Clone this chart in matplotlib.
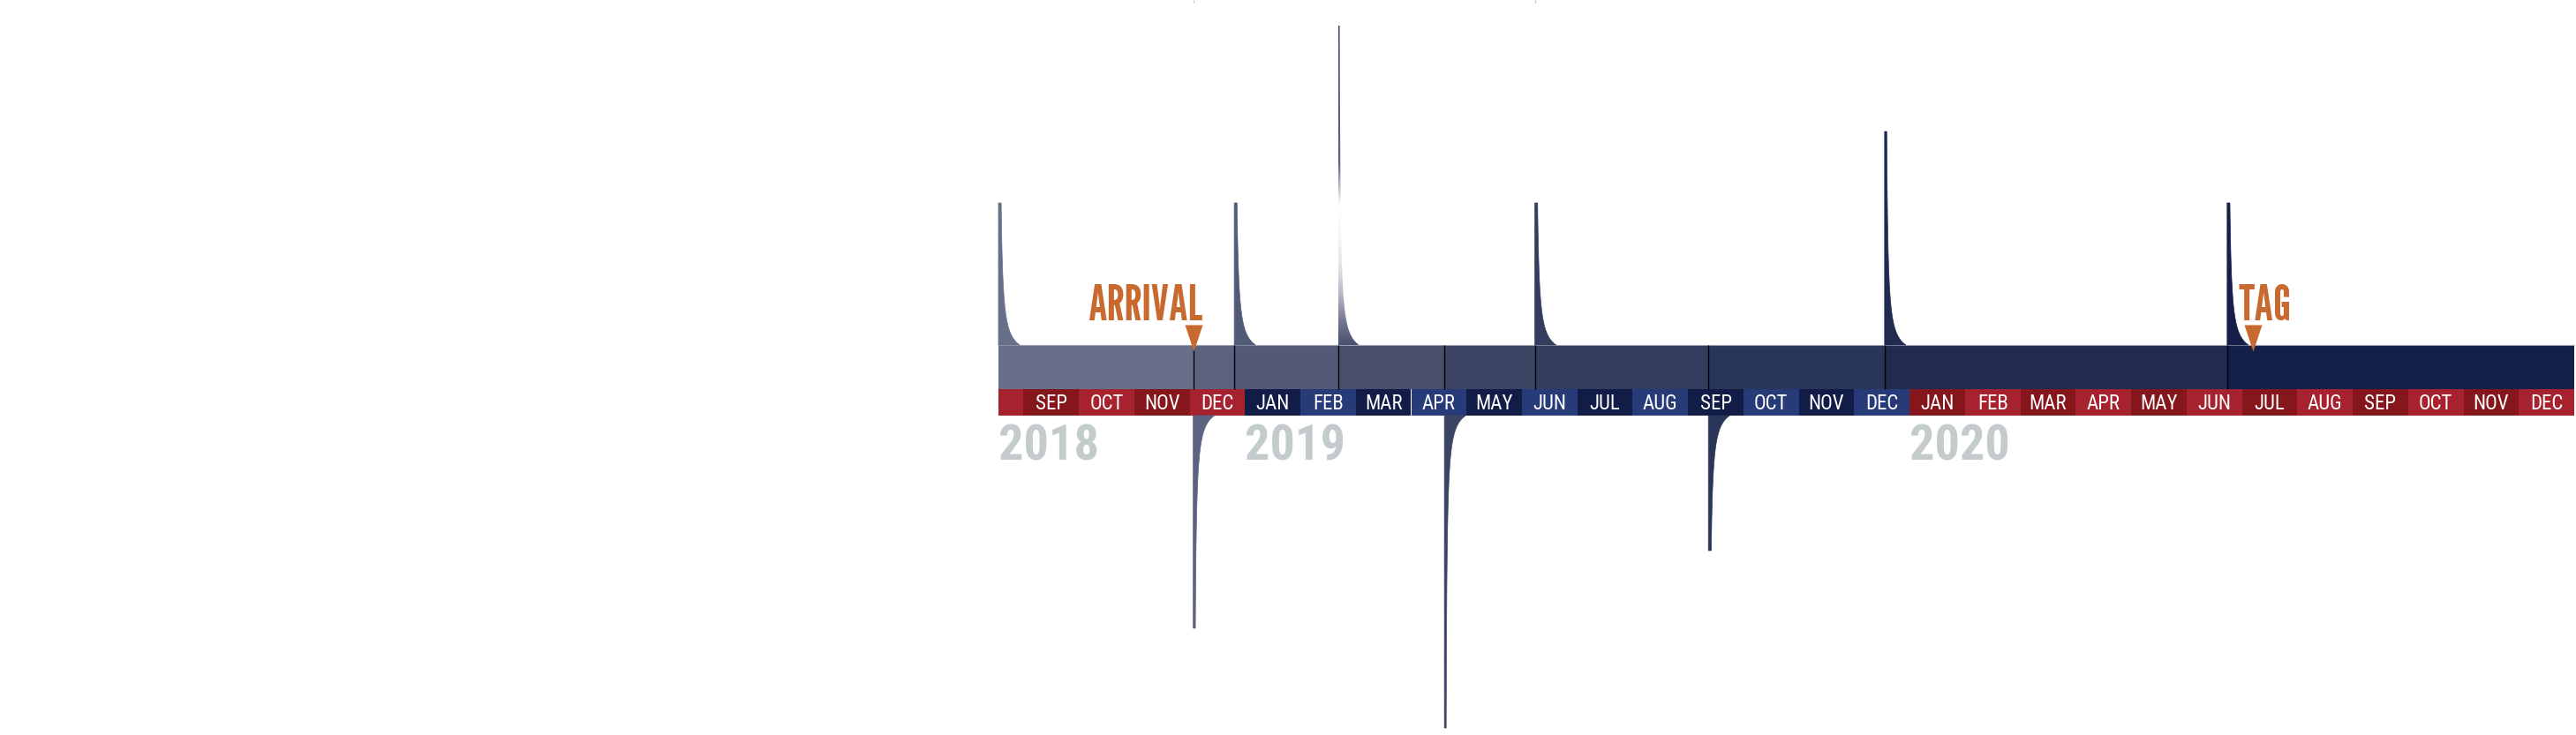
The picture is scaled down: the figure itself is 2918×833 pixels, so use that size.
import calendar
import numpy as np
import matplotlib
matplotlib.use("Agg")
import matplotlib.pyplot as plt
from matplotlib.patches import Polygon, Rectangle
from matplotlib import font_manager as fm

# --- data -------------------------------------------------------------
month_names = ['JAN', 'FEB', 'MAR', 'APR', 'MAY', 'JUN',
               'JUL', 'AUG', 'SEP', 'OCT', 'NOV', 'DEC']
years = [2018, 2019, 2020]

# segment boundaries of the status band (year, month, day)
boundaries = [(2018, 8, 18), (2018, 12, 3), (2018, 12, 26), (2019, 2, 20),
              (2019, 4, 19), (2019, 6, 8), (2019, 9, 12), (2019, 12, 18),
              (2020, 6, 23), (2021, 1, 1)]
# spike at each boundary (except the last): + up / - down
spike_size = [161, -241, 161, 362, -354, 161, -153, 242, 161]
seg_colors = ['#687089', '#5b6381', '#525a77', '#4a4f6e', '#3c4463',
              '#333e5e', '#2a3659', '#212b50', '#141f4a']

events = ['ARRIVAL', 'TAG']
event_dates = [(2018, 12, 3), (2020, 7, 7)]

# month strip colours (light / dark) per year
year_colors = {2018: ('#a6222f', '#85161c'),
               2019: ('#283b79', '#111c47'),
               2020: ('#a6222f', '#85161c')}

# --- fonts ------------------------------------------------------------
avail = {f.name for f in fm.fontManager.ttflist}


def pick(*names):
    for n in names:
        if n in avail:
            return n
    return 'DejaVu Sans'


f_month = pick('Roboto Condensed', 'Barlow Condensed', 'Archivo Narrow')
f_year = pick('Roboto Condensed', 'Barlow Condensed', 'Archivo Narrow')
f_event = pick('League Gothic', 'Antonio', 'Oswald', 'Pathway Gothic One')


def tpos(d):
    y, m, day = d
    return (y - 2018) * 12 + (m - 9) + (day - 1) / calendar.monthrange(y, m)[1]


t_b = [tpos(d) for d in boundaries]
t0, t1 = t_b[0], t_b[-1]

# layout in pixels
W, H = 2918, 833
band_left, band_right = 1131, 2916
ppm = (band_right - band_left) / (t1 - t0)
band_h, strip_h = 50, 30
band_top_px = 391

fig = plt.figure(figsize=(W / 100, H / 100), dpi=100)
ax = fig.add_axes([0, 0, 1, 1])
ax.set_xlim(t0 - band_left / ppm, t1 + (W - band_right) / ppm)
ax.set_ylim(band_top_px - H, band_top_px)
ax.axis('off')

# spike profile (in px): thin vertical edge + hyperbolic decay
SP_W, SP_A, SP_D0 = 24.0, 375.5, 1.0


def spike(h):
    c = SP_A / (SP_W - SP_D0)
    dh = SP_D0 + SP_A / (h + c)
    u = np.linspace(0, 1, 120) ** 2
    d = dh + (SP_W - dh) * u
    hh = np.clip(SP_A / (d - SP_D0) - c, 0, None)
    return np.r_[0, 0, d], np.r_[0, h, hh]


# band segments
for i, col in enumerate(seg_colors):
    ax.add_patch(Rectangle((t_b[i], -band_h), t_b[i + 1] - t_b[i], band_h,
                           facecolor=col, edgecolor='none', zorder=2))
ax.hlines(0, t0, t1, color='#9ba1b3', lw=0.8, zorder=2.5)

# spikes
for i, s in enumerate(spike_size):
    dx, dy = spike(abs(s))
    xs = t_b[i] + dx / ppm
    ys = dy if s > 0 else -band_h - strip_h - dy
    poly = Polygon(np.c_[xs, ys], closed=True, facecolor=seg_colors[i],
                   edgecolor=seg_colors[i], lw=0.5, zorder=3)
    if abs(s) > 300 and s > 0:
        # tall spike fades to white half way
        poly.set_facecolor('none')
        poly.set_edgecolor('none')
        ax.add_patch(poly)
        hv = np.linspace(0, s, 600)
        a = np.interp(hv, [0, 24, 58, 91, 130, 157, 165, 185, 208, s],
                      [1, 0.8, 0.4, 0.15, 0.04, 0, 0.1, 0.5, 0.9, 1])
        img = np.zeros((len(hv), 1, 4))
        img[..., :3] = matplotlib.colors.to_rgb(seg_colors[i])
        img[..., 3] = a[:, None]
        im = ax.imshow(img, extent=(xs.min(), xs.max(), 0, s), origin='lower',
                       aspect='auto', interpolation='bilinear', zorder=3)
        im.set_clip_path(poly)
    else:
        ax.add_patch(poly)

# separators inside the band
ax.vlines(t_b[1:-1], -band_h, 0, color='black', lw=1.0, zorder=4)
# faint marks at the top edge
ax.vlines([t_b[1], t_b[5]], band_top_px - 3, band_top_px, color='#c4c4c4', lw=0.8)

# month strip
for y in years:
    for m in range(1, 13):
        a = max(tpos((y, m, 1)), t0)
        nm = (y + 1, 1, 1) if m == 12 else (y, m + 1, 1)
        b = tpos(nm)
        if b <= t0:
            continue
        light, dark = year_colors[y]
        ax.add_patch(Rectangle((a, -band_h - strip_h), b - a, strip_h,
                               facecolor=light if m % 2 == 0 else dark,
                               edgecolor='none', zorder=2))
        if a == tpos((y, m, 1)):
            ax.text((a + b) / 2, -band_h - strip_h + 7, month_names[m - 1],
                    color='white', fontsize=16.5, family=f_month,
                    ha='center', va='baseline', zorder=5)
    # year label
    ax.text(max(t0, tpos((y, 1, 1))), -band_h - strip_h - 50, str(y),
            color='#c3cbcd', fontsize=40.5, fontweight='bold', family=f_year,
            ha='left', va='baseline', zorder=5)

# event markers
tri = [(-10, 15), (10, 15), (0, -15)]
for name, d, ha in zip(events, event_dates, ['right', 'left']):
    t = tpos(d)
    ax.plot([t], [8.5], marker=tri, markersize=21.6, color='#c8692f',
            markeredgewidth=0, zorder=6)
    tx = t + 10 / ppm if ha == 'right' else t - 16 / ppm
    ax.text(tx, 28, name, color='#c8692f', fontsize=40, family=f_event,
            ha=ha, va='baseline', zorder=6)

fig.savefig('out.png', dpi=100)
